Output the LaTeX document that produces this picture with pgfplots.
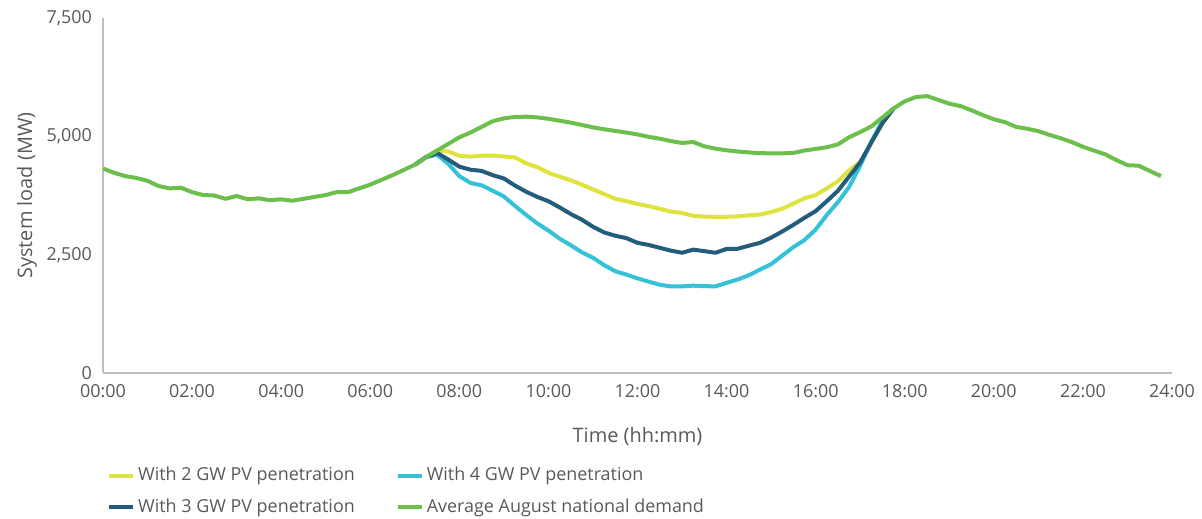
\documentclass[border=0pt]{standalone}
\usepackage{pgfplots}
\pgfplotsset{compat=1.18}
\usepackage{fontspec}
\setmainfont{Open Sans}

\definecolor{txtgray}{HTML}{595959}
\definecolor{axgray}{HTML}{BFBFBF}
\definecolor{pvtwo}{HTML}{DEE33E}
\definecolor{pvfour}{HTML}{35C2D7}
\definecolor{pvthree}{HTML}{245C7C}
\definecolor{avgdem}{HTML}{6CBF4B}

% quarter-hour readings, time in hours
\begin{document}
\begin{tikzpicture}
\begin{axis}[
    name=ax,
    scale only axis,
    width=534.5bp, height=177.5bp,
    xmin=0, xmax=24, ymin=0, ymax=7500,
    axis x line=bottom, axis y line=left,
    axis line style={-, axgray, line width=0.8bp},
    major tick length=0pt,
    xtick={0,2,...,24},
    xticklabels={00:00,02:00,04:00,06:00,08:00,10:00,12:00,14:00,16:00,18:00,20:00,22:00,24:00},
    ytick={0,2500,5000,7500},
    yticklabels={0,{2,500},{5,000},{7,500}},
    tick label style={font=\fontsize{9}{10}\selectfont, text=txtgray},
    xticklabel style={yshift=-2bp},
    yticklabel style={xshift=-2bp},
    xlabel={Time (hh:mm)},
    ylabel={System load (MW)},
    label style={font=\fontsize{10}{12}\selectfont, text=txtgray},
    xlabel style={yshift=-8bp},
    ylabel style={yshift=-2bp},
    legend columns=2,
    legend cell align=left,
    legend style={draw=none, fill=none, at={(-0.002,-0.242)}, anchor=north west,
        font=\fontsize{9}{10}\selectfont, text=txtgray,
        nodes={inner xsep=1.5bp},
        /tikz/column 2/.style={column sep=19bp},
        row sep=3.5bp},
    legend image code/.code={\draw[#1, line width=2bp] (0bp,0bp) -- (12bp,0bp);},
    every axis plot/.append style={line width=2bp, line join=round},
]
\addplot[pvtwo] coordinates {
(7.00,4400)(7.25,4560)(7.50,4700)(7.75,4680)(8.00,4590)(8.25,4570)(8.50,4590)(8.75,4595)
(9.00,4575)(9.25,4555)(9.50,4430)(9.75,4350)(10.00,4230)(10.25,4150)(10.50,4070)(10.75,3980)
(11.00,3880)(11.25,3780)(11.50,3680)(11.75,3630)(12.00,3570)(12.25,3525)(12.50,3470)(12.75,3410)
(13.00,3380)(13.25,3320)(13.50,3305)(13.75,3298)(14.00,3300)(14.25,3310)(14.50,3330)(14.75,3347)
(15.00,3400)(15.25,3470)(15.50,3580)(15.75,3690)(16.00,3760)(16.25,3900)(16.50,4050)(16.75,4280)
(17.00,4460)(17.25,4870)(17.50,5280)(17.75,5590)
};
\addlegendentry{With 2 GW PV penetration}
\addplot[pvfour] coordinates {
(7.00,4400)(7.25,4560)(7.50,4610)(7.75,4420)(8.00,4160)(8.25,4015)(8.50,3965)(8.75,3850)
(9.00,3730)(9.25,3530)(9.50,3340)(9.75,3160)(10.00,3010)(10.25,2840)(10.50,2700)(10.75,2550)
(11.00,2435)(11.25,2280)(11.50,2150)(11.75,2080)(12.00,2000)(12.25,1930)(12.50,1865)(12.75,1828)
(13.00,1830)(13.25,1845)(13.50,1835)(13.75,1830)(14.00,1905)(14.25,1975)(14.50,2065)(14.75,2185)
(15.00,2300)(15.25,2480)(15.50,2660)(15.75,2810)(16.00,3030)(16.25,3340)(16.50,3610)(16.75,3930)
(17.00,4380)(17.25,4890)(17.50,5330)(17.75,5590)
};
\addlegendentry{With 4 GW PV penetration}
\addplot[pvthree] coordinates {
(7.00,4400)(7.25,4560)(7.50,4650)(7.75,4510)(8.00,4360)(8.25,4295)(8.50,4270)(8.75,4180)
(9.00,4110)(9.25,3960)(9.50,3830)(9.75,3720)(10.00,3630)(10.25,3500)(10.50,3360)(10.75,3240)
(11.00,3090)(11.25,2970)(11.50,2900)(11.75,2850)(12.00,2750)(12.25,2705)(12.50,2645)(12.75,2585)
(13.00,2540)(13.25,2606)(13.50,2575)(13.75,2540)(14.00,2621)(14.25,2625)(14.50,2690)(14.75,2750)
(15.00,2860)(15.25,2990)(15.50,3130)(15.75,3280)(16.00,3420)(16.25,3630)(16.50,3850)(16.75,4150)
(17.00,4450)(17.25,4870)(17.50,5280)(17.75,5590)
};
\addlegendentry{With 3 GW PV penetration}
\addplot[avgdem] coordinates {
(0.00,4320)(0.25,4230)(0.50,4160)(0.75,4120)(1.00,4060)(1.25,3950)(1.50,3900)(1.75,3915)
(2.00,3820)(2.25,3760)(2.50,3750)(2.75,3680)(3.00,3740)(3.25,3670)(3.50,3690)(3.75,3650)
(4.00,3670)(4.25,3640)(4.50,3680)(4.75,3720)(5.00,3760)(5.25,3820)(5.50,3820)(5.75,3900)
(6.00,3980)(6.25,4080)(6.50,4180)(6.75,4290)(7.00,4400)(7.25,4560)(7.50,4700)(7.75,4840)
(8.00,4980)(8.25,5080)(8.50,5200)(8.75,5320)(9.00,5380)(9.25,5410)(9.50,5415)(9.75,5400)
(10.00,5370)(10.25,5330)(10.50,5290)(10.75,5240)(11.00,5190)(11.25,5150)(11.50,5115)(11.75,5080)
(12.00,5040)(12.25,4990)(12.50,4950)(12.75,4900)(13.00,4860)(13.25,4880)(13.50,4790)(13.75,4740)
(14.00,4705)(14.25,4680)(14.50,4660)(14.75,4645)(15.00,4640)(15.25,4640)(15.50,4650)(15.75,4700)
(16.00,4735)(16.25,4770)(16.50,4830)(16.75,4980)(17.00,5090)(17.25,5210)(17.50,5400)(17.75,5590)
(18.00,5740)(18.25,5830)(18.50,5850)(18.75,5770)(19.00,5690)(19.25,5640)(19.50,5550)(19.75,5450)
(20.00,5360)(20.25,5300)(20.50,5200)(20.75,5160)(21.00,5110)(21.25,5030)(21.50,4960)(21.75,4880)
(22.00,4780)(22.25,4700)(22.50,4620)(22.75,4500)(23.00,4390)(23.25,4380)(23.50,4270)(23.75,4160)
};
\addlegendentry{Average August national demand}
\end{axis}
\pgfresetboundingbox
\path[use as bounding box] ([xshift=-51.5bp,yshift=-73bp]ax.south west) rectangle ([xshift=15bp,yshift=9bp]ax.north east);
\end{tikzpicture}
\end{document}
